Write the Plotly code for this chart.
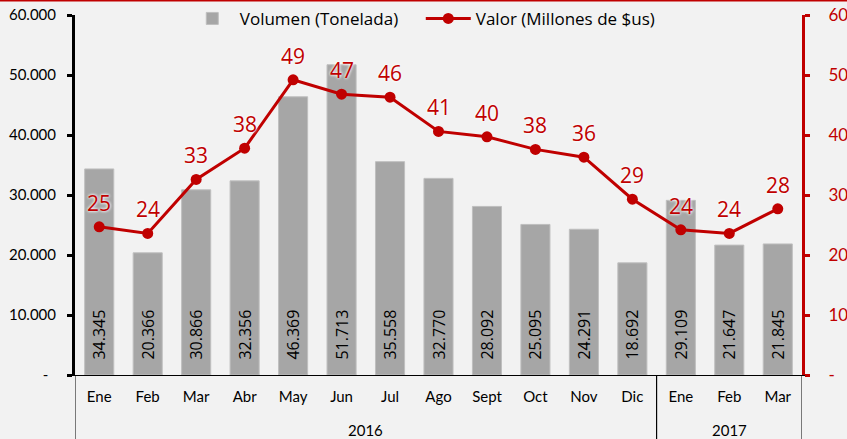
import plotly.graph_objects as go

months = ["Ene", "Feb", "Mar", "Abr", "May", "Jun", "Jul", "Ago", "Sept", "Oct", "Nov", "Dic", "Ene", "Feb", "Mar"]
years = ["2016"] * 12 + ["2017"] * 3
volumen = [34345, 20366, 30866, 32356, 46369, 51713, 35558, 32770, 28092, 25095, 24291, 18692, 29109, 21647, 21845]
valor = [24.7, 23.6, 32.6, 37.8, 49.2, 46.8, 46.3, 40.6, 39.7, 37.6, 36.3, 29.3, 24.2, 23.6, 27.7]
left_tickvals = [0, 10000, 20000, 30000, 40000, 50000, 60000]
left_ticktext = ["-\u00a0\u00a0", "10.000", "20.000", "30.000", "40.000", "50.000", "60.000"]
right_tickvals = [0, 10, 20, 30, 40, 50, 60]
right_ticktext = ["-", "10", "20", "30", "40", "50", "60"]

RED = "#c00000"
GRAY = "#a6a6a6"
BG = "#f2f2f2"
AXFONT = "Lato"
LBLFONT = "Open Sans"

x = list(range(len(months)))
vol_text = ["\u00a0\u00a0\u00a0" + f"{v:,}".replace(",", ".") for v in volumen]

fig = go.Figure()
fig.add_trace(go.Bar(
    x=x, y=volumen, name="Volumen (Tonelada)",
    marker=dict(color=GRAY, line=dict(color="#bfbfbf", width=1)),
    text=vol_text, textposition="inside", insidetextanchor="start",
    textangle=-90, textfont=dict(family=LBLFONT, size=16, color="black"),
    cliponaxis=False,
))
fig.add_trace(go.Scatter(
    x=x, y=valor, name="Valor (Millones de $us)", yaxis="y2",
    mode="lines+markers", line=dict(color=RED, width=3),
    marker=dict(color=RED, size=11),
))

annotations = []
for xi, v in zip(x, valor):
    annotations.append(dict(
        x=xi, y=v, xref="x", yref="y2", text=f"{v:.0f}", showarrow=False,
        yanchor="middle", yshift=24,
        font=dict(family=LBLFONT, size=21, color=RED,
                  shadow="0px 0px 3px white, 0px 0px 3px white"),
    ))

# year group labels and dividers
shapes = []
groups = []
for i, yv in enumerate(years):
    if not groups or groups[-1][0] != yv:
        groups.append([yv, i, i])
    else:
        groups[-1][2] = i
for yv, s, e in groups:
    annotations.append(dict(
        x=(s + e) / 2, y=-0.153, xref="x", yref="paper", text=yv,
        showarrow=False, yanchor="middle",
        font=dict(family=AXFONT, size=15, color="black"),
    ))
    for bx in (s - 0.5, e + 0.5):
        shapes.append(dict(type="line", xref="x", yref="paper",
                           x0=bx, x1=bx, y0=0, y1=-0.2,
                           line=dict(color="black", width=1)))

# top red border line
shapes.append(dict(type="line", xref="paper", yref="paper",
                   x0=-0.2, x1=1.2, y0=1.0405, y1=1.0405,
                   line=dict(color=RED, width=2)))

fig.update_layout(
    width=847, height=439,
    margin=dict(l=75, r=45, t=15, b=64, autoexpand=False),
    paper_bgcolor=BG, plot_bgcolor=BG,
    bargap=0.4,
    showlegend=True,
    legend=dict(orientation="h", x=0.151, xanchor="left",
                yref="container", y=0.957, yanchor="middle",
                font=dict(family=LBLFONT, size=17, color="black"),
                bgcolor="rgba(0,0,0,0)", itemwidth=45,
                entrywidth=176, entrywidthmode="pixels"),
    xaxis=dict(
        tickmode="array", tickvals=x, ticktext=months,
        range=[-0.5, len(months) - 0.5],
        showline=True, linecolor="black", linewidth=1,
        ticks="outside", ticklen=8, tickcolor="rgba(0,0,0,0)",
        tickfont=dict(family=AXFONT, size=15, color="black"),
        showgrid=False, zeroline=False, automargin=False,
    ),
    yaxis=dict(
        range=[0, 60000], tickmode="array", tickvals=left_tickvals, ticktext=left_ticktext,
        showline=True, linecolor="black", linewidth=3,
        ticks="outside", ticklen=5, tickwidth=3, tickcolor="black",
        ticklabelstandoff=8,
        tickfont=dict(family=AXFONT, size=15, color="black"),
        showgrid=False, zeroline=False, automargin=False,
    ),
    yaxis2=dict(
        range=[0, 60], overlaying="y", side="right",
        tickmode="array", tickvals=right_tickvals, ticktext=right_ticktext,
        showline=True, linecolor=RED, linewidth=3,
        ticks="outside", ticklen=5, tickwidth=3, tickcolor=RED,
        ticklabelstandoff=15,
        tickfont=dict(family=AXFONT, size=17, color=RED),
        showgrid=False, zeroline=False, automargin=False,
    ),
    annotations=annotations,
    shapes=shapes,
)

fig.write_html("out.html", config={"displayModeBar": False},
               post_script="document.body.style.margin='0';document.body.style.overflow='hidden';")
